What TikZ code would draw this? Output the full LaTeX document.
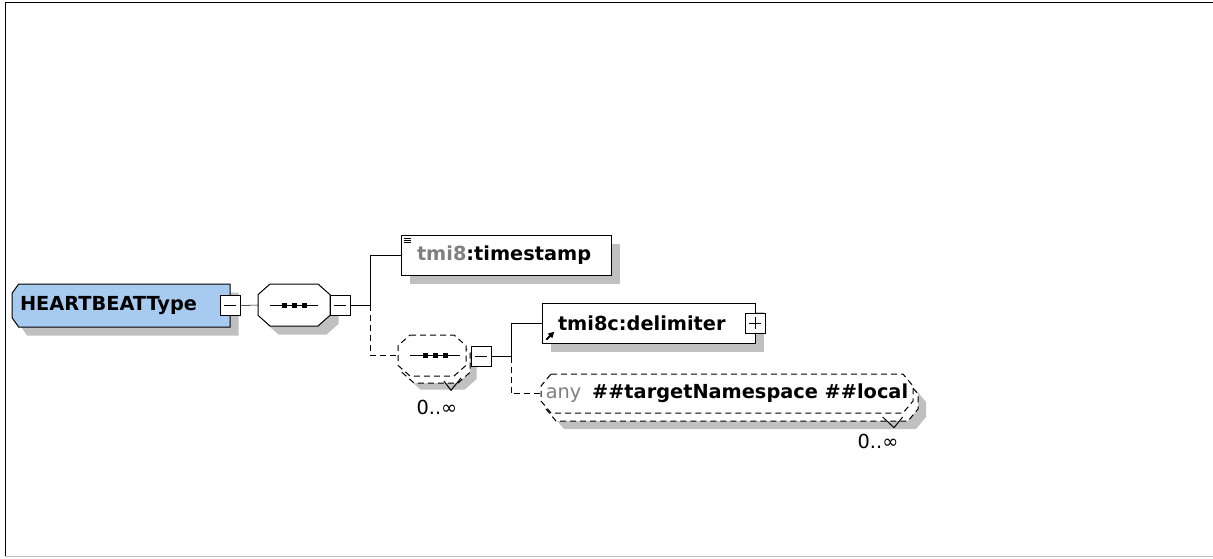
\documentclass[tikz,border=0pt]{standalone}
\usepackage{fontspec}
\setmainfont{DejaVu Sans}
\usetikzlibrary{shadows,arrows.meta,backgrounds}
\definecolor{htblue}{RGB}{166,202,240}
\definecolor{shadowgray}{RGB}{192,192,192}
\definecolor{nsgray}{RGB}{128,128,128}
\tikzset{
  % octagon outline round a node: node, chamfer x, chamfer y, shift x, shift y
  chpath/.style n args={5}{insert path={
    ([xshift=#2+#4,yshift=#5]#1.north west) -- ([xshift=-#2+#4,yshift=#5]#1.north east) --
    ([xshift=#4,yshift=-#3+#5]#1.north east) -- ([xshift=#4,yshift=#3+#5]#1.south east) --
    ([xshift=-#2+#4,yshift=#5]#1.south east) -- ([xshift=#2+#4,yshift=#5]#1.south west) --
    ([xshift=#4,yshift=#3+#5]#1.south west) -- ([xshift=#4,yshift=-#3+#5]#1.north west) -- cycle}},
  % left-chamfered outline: node, chamfer x, chamfer y, shift x, shift y
  lchpath/.style n args={5}{insert path={
    ([xshift=#2+#4,yshift=#5]#1.north west) -- ([xshift=#4,yshift=#5]#1.north east) --
    ([xshift=#4,yshift=#5]#1.south east) -- ([xshift=#2+#4,yshift=#5]#1.south west) --
    ([xshift=#4,yshift=#3+#5]#1.south west) -- ([xshift=#4,yshift=-#3+#5]#1.north west) -- cycle}},
}
\begin{document}
\begin{tikzpicture}[x=0.75pt,y=-0.75pt,line width=0.75pt,
  every node/.style={inner sep=0pt,outer sep=0pt},
  txt/.style={font=\fontsize{14.5}{17}\selectfont},
  bold/.style={font=\fontsize{14.5}{17}\selectfont\bfseries},
  shad/.style={drop shadow={shadow xshift=6.4pt,shadow yshift=-6.4pt,fill=shadowgray,opacity=1}},
  elem/.style={draw,fill=white,shad,minimum height=30pt,bold,inner xsep=12pt},
  togglebox/.style={draw,fill=white,minimum width=15pt,minimum height=15pt},
  minusbox/.style={togglebox,path picture={\draw ([xshift=3pt]path picture bounding box.west) -- ([xshift=-3pt]path picture bounding box.east);}},
  plusbox/.style={togglebox,path picture={\draw ([xshift=3pt]path picture bounding box.west) -- ([xshift=-3pt]path picture bounding box.east); \draw ([yshift=-3pt]path picture bounding box.north) -- ([yshift=3pt]path picture bounding box.south);}},
  area/.style={rectangle},
  dashedline/.style={dash pattern=on 4.5pt off 3pt},
]
\useasboundingbox (0,0) rectangle (1213,558);
% frame
\draw (5,556) -- (5,2) -- (1213,2);
\draw[shadowgray] (5,556) -- (1213,556);

% complex type
\node[area,minimum width=163.5pt,minimum height=32.25pt,bold,inner xsep=6pt] (ht) at (121,305.5) {\makebox[151.5pt][l]{HEARTBEATType}};
\node[minusbox] (m1) at (ht.east) {};

% sequence
\node[area,minimum width=54pt,minimum height=31.5pt] (sq) at (294,305) {};
\draw ([xshift=-18pt]sq.center) -- ([xshift=18pt]sq.center);
\foreach \dx in {-7.5,0,7.5} \fill ([xshift=\dx pt]sq.center) ++(-2.5,-2.5) rectangle ++(5,5);
\node[minusbox] (m2) at (340,305) {};
\coordinate (j1) at (370,305);

% timestamp
\node[elem] (ts) at (506,255) {\makebox[133.5pt][l]{{\color{nsgray}tmi8}:timestamp}};
\draw[line width=0.6pt] ([xshift=2.5pt,yshift=-2.8pt]ts.north west) -- ++(7,0)
                        ([xshift=2.5pt,yshift=-4.3pt]ts.north west) -- ++(7,0)
                        ([xshift=2.5pt,yshift=-5.8pt]ts.north west) -- ++(7,0);

% repeated sequence
\node[area,minimum width=51pt,minimum height=30.75pt] (dsqb) at (436,362.5) {};
\node[area,minimum width=51pt,minimum height=30.75pt] (dsq) at (432,355.5) {};
\draw ([xshift=-16.5pt]dsq.center) -- ([xshift=21pt]dsq.center);
\foreach \dx in {-5.25,2.25,9.75} \fill ([xshift=\dx pt]dsq.center) ++(-2.5,-2.5) rectangle ++(5,5);
\node[minusbox] (m3) at (481,356.5) {};
\draw ([xshift=6pt,yshift=1.5pt]dsqb.south) -- ([xshift=11.25pt,yshift=-5.5pt]dsqb.south) -- ([xshift=18.75pt,yshift=3.75pt]dsqb.south);
\node[txt] (lab1) at (437,407) {0..∞};
\coordinate (j2) at (511,356.5);

% delimiter
\node[elem] (dl) at (648.5,323) {\makebox[135.75pt][l]{tmi8c:delimiter}};
\node[plusbox] (p1) at (dl.east) {};
\draw[-{Triangle[length=4.5pt,width=4.5pt]},line width=1.5pt] ([xshift=3.2pt,yshift=2.5pt]dl.south west) -- ++(8,-8);

% any
\node[area,minimum width=279pt,minimum height=29.25pt] (anb) at (732,401.5) {};
\node[area,minimum width=279pt,minimum height=29.25pt,bold] (an) at (727,393.5)
  {{\mdseries\color{nsgray}any}\hspace{8pt}\#\#targetNamespace \#\#local};
\draw ([xshift=113pt,yshift=3pt]anb.south) -- ([xshift=121.5pt,yshift=-5pt]anb.south) -- ([xshift=128pt,yshift=3pt]anb.south);
\node[txt] (lab2) at (878,441) {0..∞};

% outlines and shadows of the shaped nodes
\begin{pgfonlayer}{background}
\begin{scope}[line width=0.75pt]
  \fill[shadowgray,lchpath={ht}{5pt}{7pt}{6.4pt}{-6.4pt}];
  \filldraw[fill=htblue,line width=0.75pt,lchpath={ht}{5pt}{7pt}{0pt}{0pt}];
  \fill[shadowgray,chpath={sq}{9pt}{8pt}{6.4pt}{-6.4pt}];
  \filldraw[fill=white,line width=0.75pt,chpath={sq}{9pt}{8pt}{0pt}{0pt}];
  \fill[shadowgray,chpath={dsqb}{9pt}{8pt}{5pt}{-5pt}];
  \filldraw[fill=white,line width=0.75pt,dashedline,chpath={dsqb}{9pt}{8pt}{0pt}{0pt}];
  \filldraw[fill=white,line width=0.75pt,dashedline,chpath={dsq}{9pt}{8pt}{0pt}{0pt}];
  \fill[shadowgray,chpath={anb}{7.5pt}{9pt}{6pt}{-6pt}];
  \filldraw[fill=white,line width=0.75pt,dashedline,chpath={anb}{7.5pt}{9pt}{0pt}{0pt}];
  \filldraw[fill=white,line width=0.75pt,dashedline,chpath={an}{7.5pt}{9pt}{0pt}{0pt}];
\end{scope}
\end{pgfonlayer}

% connectors
\draw (m1.east) -- (sq.west);
\draw (m2.east) -- (j1) |- (ts.west);
\draw[dashedline] (j1) |- (dsq.west);
\draw (m3.east) -- (j2) |- (dl.west);
\draw[dashedline] (j2) |- (an.west);
\end{tikzpicture}
\end{document}
